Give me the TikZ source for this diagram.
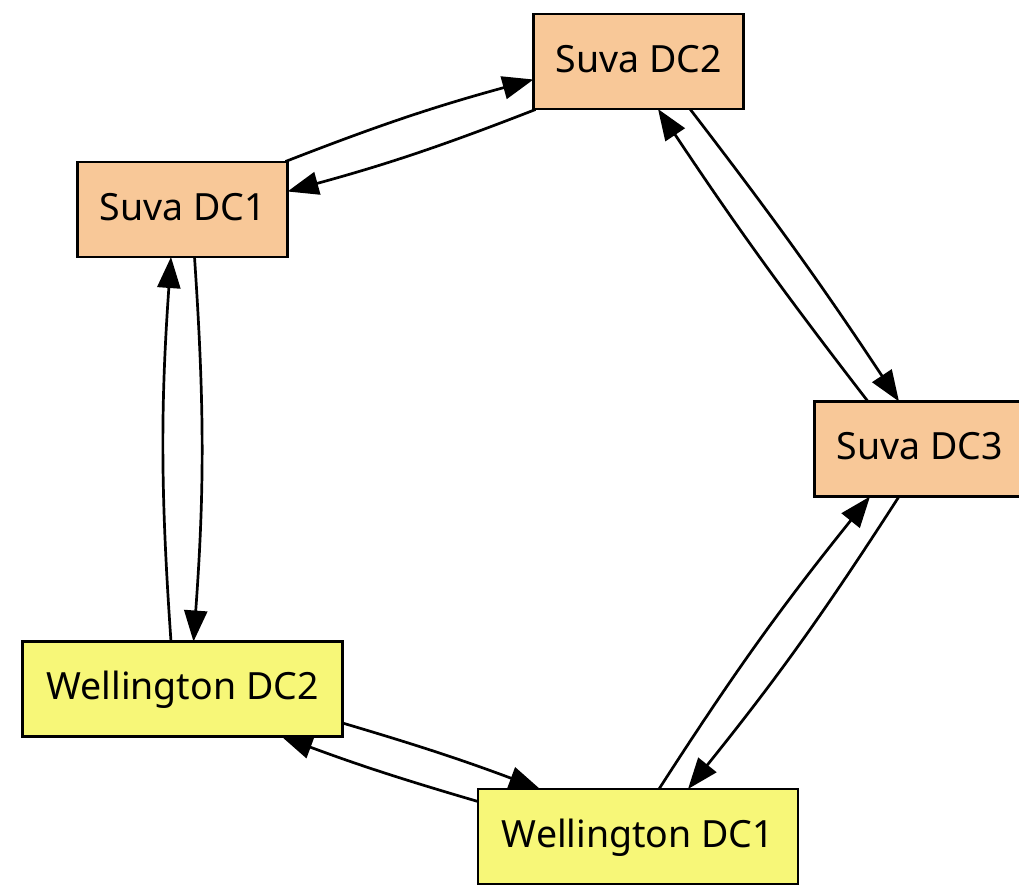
\documentclass[tikz,border=0pt]{standalone}
\usepackage{fontspec}
\setmainfont{Noto Sans}
\usetikzlibrary{arrows.meta,calc}
\definecolor{suvafill}{RGB}{248,200,152}
\definecolor{wlgfill}{RGB}{247,247,120}
\begin{document}
\begin{tikzpicture}[x=1pt,y=-1pt,
  box/.style={draw=black, line width=2.6pt, minimum height=95pt, inner sep=0pt,
    font=\fontsize{37.5}{45}\selectfont, text height=30pt, text depth=9pt},
  suva/.style={box, fill=suvafill, minimum width=210pt},
  wlg/.style={box, fill=wlgfill, minimum width=320pt},
  link/.style={line width=2.7pt, -{Triangle[length=31pt,width=23pt]}}
]
\useasboundingbox (0,0) rectangle (1019,884);

% data centres
\node[suva] (dc2) at (638.5,61.5) {Suva DC2};
\node[suva] (dc1) at (182.5,209.5) {Suva DC1};
\node[suva] (dc3) at (919.5,449) {Suva DC3};
\node[wlg]  (w2)  at (182.5,689) {Wellington DC2};
\node[wlg]  (w1)  at (638,836.5) {Wellington DC1};

% replication links, one in each direction
\draw[link] ($(dc1)+(103,-48)$)  to[bend left=3] ($(dc2)+(-105,18)$);
\draw[link] ($(dc2)+(-103,48)$)  to[bend left=3] ($(dc1)+(105,-18)$);
\draw[link] ($(dc2)+(51.5,47.5)$) to[bend left=2] ($(dc3)+(-20.5,-47.5)$);
\draw[link] ($(dc3)+(-51.5,-47.5)$) to[bend left=2] ($(dc2)+(19.5,47.5)$);
\draw[link] ($(dc3)+(-20.5,47.5)$) to[bend left=3] ($(w1)+(50,-47.5)$);
\draw[link] ($(w1)+(21,-47.5)$)  to[bend left=3] ($(dc3)+(-49.5,47.5)$);
\draw[link] ($(w2)+(160,34)$)    to[bend left=2] ($(w1)+(-98,-47.5)$);
\draw[link] ($(w1)+(-160,-35)$)  to[bend left=2] ($(w2)+(99,47.5)$);
\draw[link] ($(dc1)+(12,47.5)$)  to[bend left=4] ($(w2)+(11,-47.5)$);
\draw[link] ($(w2)+(-11.5,-47.5)$) to[bend left=4] ($(dc1)+(-11.5,47.5)$);
\end{tikzpicture}
\end{document}
